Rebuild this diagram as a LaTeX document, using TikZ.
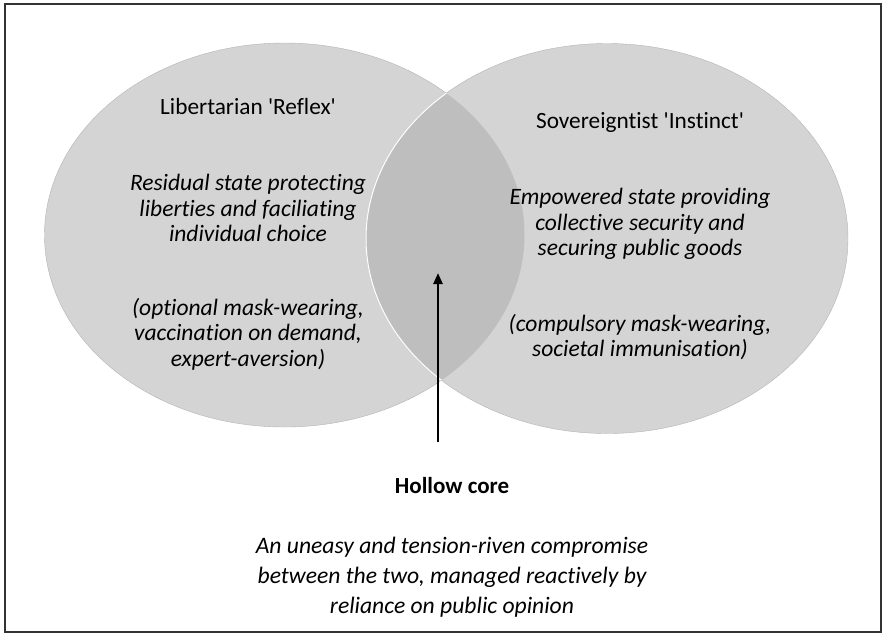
\documentclass[tikz,border=0pt]{standalone}
\usepackage{fontspec}
\setmainfont{Carlito}[Ligatures={TeXOff,NoCommon}]
\usetikzlibrary{arrows.meta}
\definecolor{vennfill}{HTML}{D4D4D4}
\definecolor{corefill}{HTML}{BEBEBE}
\definecolor{vennedge}{HTML}{B4B4B4}
\tikzset{
  heading/.style={font=\fontsize{23.3}{26}\selectfont, align=center},
  gloss/.style={font=\fontsize{23.5}{25.5}\selectfont\itshape, align=center},
  wide gloss/.style={font=\fontsize{23.6}{30}\selectfont\itshape, align=center},
}

\begin{document}
\begin{tikzpicture} [x=1pt,y=-1pt]
  \useasboundingbox (0,0) rectangle (883,633);
  \draw [line width=2pt, black!80] (5,4) rectangle (881,632);
% circles
  \fill [vennfill] (284.5,235) ellipse [x radius=240, y radius=192];
  \draw [vennedge] (284.5,235) ellipse [x radius=240, y radius=192];
  \fill [vennfill] (607,238.5) ellipse [x radius=241, y radius=195];
  \draw [vennedge] (607,238.5) ellipse [x radius=241, y radius=195];
  % overlap
  \begin{scope}
    \clip (284.5,235) ellipse [x radius=240, y radius=192];
    \fill [corefill] (607,238.5) ellipse [x radius=241, y radius=195];
    \draw [white, line width=1pt] (607,238.5) ellipse [x radius=241, y radius=195];
  \end{scope}

  \node (libhead) at (248,106) [heading] {Libertarian 'Reflex'};
  \node (libtext) at (248,208) [gloss] {Residual state protecting\\liberties and faciliating\\individual choice};
  \node (libcase) at (248,334) [gloss] {(optional mask-wearing,\\vaccination on demand,\\expert-aversion)};

  \node (sovhead) at (640,122) [heading] {Sovereigntist 'Instinct'};
  \node (sovtext) at (640,224) [gloss] {Empowered state providing\\collective security and\\securing public goods};
  \node (sovcase) at (640,337) [gloss] {(compulsory mask-wearing,\\societal immunisation)};

  \node (corehead) at (452,486) [heading, font=\fontsize{23}{26}\selectfont\bfseries] {Hollow core};
  \node (coretext) at (452,577) [wide gloss] {An uneasy and tension-riven compromise\\between the two, managed reactively by\\reliance on public opinion};

  % arrow
  \coordinate (tail) at (438,442);
  \coordinate (tip) at (438,273);
  \draw [-{Triangle[width=9pt,length=11pt]}, line width=2.5pt] (tail) -- (tip);
\end{tikzpicture}
\end{document}
